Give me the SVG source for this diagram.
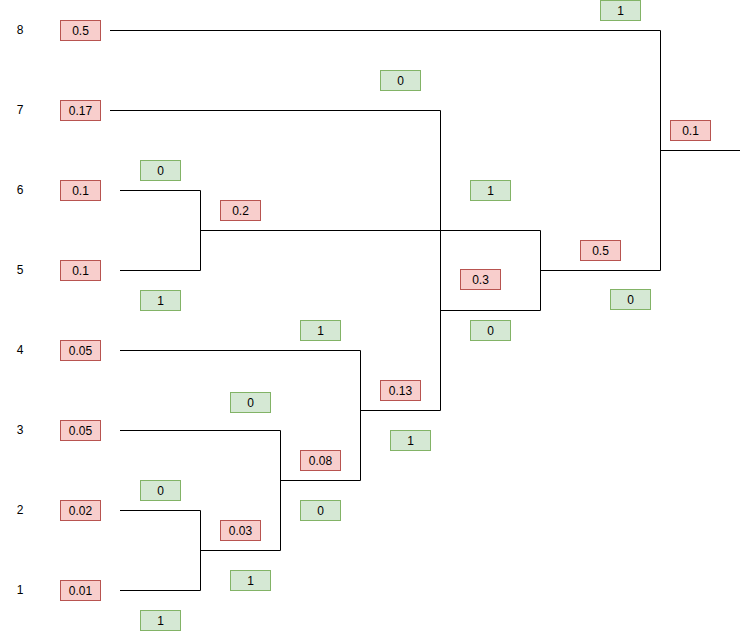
<svg xmlns="http://www.w3.org/2000/svg" width="742" height="631" viewBox="0 0 742 631">
<style>
text{font-family:"Liberation Sans",Arial,sans-serif;font-size:12px;fill:#000;text-anchor:middle;dominant-baseline:central}
.r{fill:#f8cecc;stroke:#b85450;stroke-width:1}
.g{fill:#d5e8d4;stroke:#82b366;stroke-width:1}
.e{fill:none;stroke:#000;stroke-width:1}
</style>
<rect width="742" height="631" fill="#fff"/>
<g id="connectors">
<path class="e" d="M110,30.5H660.5V270.5M660.5,150.5H740"/>
<path class="e" d="M110,110.5H440.5V410.5H360.5"/>
<path class="e" d="M120,190.5H200.5V270.5H120M200.5,230.5H540.5V310.5H440.5M540.5,270.5H660.5"/>
<path class="e" d="M120,350.5H360.5V480.5H280.5"/>
<path class="e" d="M120,430.5H280.5V550.5H200.5"/>
<path class="e" d="M120,510.5H200.5V590.5H120"/>
</g>
<g id="row-labels">
<text x="20" y="30">8</text>
<text x="20" y="110">7</text>
<text x="20" y="190">6</text>
<text x="20" y="270">5</text>
<text x="20" y="350">4</text>
<text x="20" y="430">3</text>
<text x="20" y="510">2</text>
<text x="20" y="590">1</text>
</g>
<g id="leaf8"><rect class="r" x="60.5" y="20.5" width="40" height="20"/><text x="80.5" y="30.5">0.5</text></g>
<g id="leaf7"><rect class="r" x="60.5" y="100.5" width="40" height="20"/><text x="80.5" y="110.5">0.17</text></g>
<g id="leaf6"><rect class="r" x="60.5" y="180.5" width="40" height="20"/><text x="80.5" y="190.5">0.1</text></g>
<g id="leaf5"><rect class="r" x="60.5" y="260.5" width="40" height="20"/><text x="80.5" y="270.5">0.1</text></g>
<g id="leaf4"><rect class="r" x="60.5" y="340.5" width="40" height="20"/><text x="80.5" y="350.5">0.05</text></g>
<g id="leaf3"><rect class="r" x="60.5" y="420.5" width="40" height="20"/><text x="80.5" y="430.5">0.05</text></g>
<g id="leaf2"><rect class="r" x="60.5" y="500.5" width="40" height="20"/><text x="80.5" y="510.5">0.02</text></g>
<g id="leaf1"><rect class="r" x="60.5" y="580.5" width="40" height="20"/><text x="80.5" y="590.5">0.01</text></g>
<g id="n-0.1"><rect class="r" x="670.5" y="120.5" width="40" height="20"/><text x="690.5" y="130.5">0.1</text></g>
<g id="n-0.5"><rect class="r" x="580.5" y="240.5" width="40" height="20"/><text x="600.5" y="250.5">0.5</text></g>
<g id="n-0.3"><rect class="r" x="460.5" y="269.5" width="40" height="20"/><text x="480.5" y="279.5">0.3</text></g>
<g id="n-0.2"><rect class="r" x="220.5" y="200.5" width="40" height="20"/><text x="240.5" y="210.5">0.2</text></g>
<g id="n-0.13"><rect class="r" x="380.5" y="380.5" width="40" height="20"/><text x="400.5" y="390.5">0.13</text></g>
<g id="n-0.08"><rect class="r" x="300.5" y="450.5" width="40" height="20"/><text x="320.5" y="460.5">0.08</text></g>
<g id="n-0.03"><rect class="r" x="220.5" y="520.5" width="40" height="20"/><text x="240.5" y="530.5">0.03</text></g>
<g id="b1"><rect class="g" x="600.5" y="0.5" width="40" height="20"/><text x="620.5" y="10.5">1</text></g>
<g id="b2"><rect class="g" x="380.5" y="70.5" width="40" height="20"/><text x="400.5" y="80.5">0</text></g>
<g id="b3"><rect class="g" x="470.5" y="180.5" width="40" height="20"/><text x="490.5" y="190.5">1</text></g>
<g id="b4"><rect class="g" x="610.5" y="289.5" width="40" height="20"/><text x="630.5" y="299.5">0</text></g>
<g id="b5"><rect class="g" x="470.5" y="320.5" width="40" height="20"/><text x="490.5" y="330.5">0</text></g>
<g id="b6"><rect class="g" x="140.5" y="160.5" width="40" height="20"/><text x="160.5" y="170.5">0</text></g>
<g id="b7"><rect class="g" x="140.5" y="290.5" width="40" height="20"/><text x="160.5" y="300.5">1</text></g>
<g id="b8"><rect class="g" x="300.5" y="320.5" width="40" height="20"/><text x="320.5" y="330.5">1</text></g>
<g id="b9"><rect class="g" x="230.5" y="392.5" width="40" height="20"/><text x="250.5" y="402.5">0</text></g>
<g id="b10"><rect class="g" x="390.5" y="430.5" width="40" height="20"/><text x="410.5" y="440.5">1</text></g>
<g id="b11"><rect class="g" x="140.5" y="480.5" width="40" height="20"/><text x="160.5" y="490.5">0</text></g>
<g id="b12"><rect class="g" x="300.5" y="500.5" width="40" height="20"/><text x="320.5" y="510.5">0</text></g>
<g id="b13"><rect class="g" x="230.5" y="570.5" width="40" height="20"/><text x="250.5" y="580.5">1</text></g>
<g id="b14"><rect class="g" x="140.5" y="610.5" width="40" height="20"/><text x="160.5" y="620.5">1</text></g>
</svg>
